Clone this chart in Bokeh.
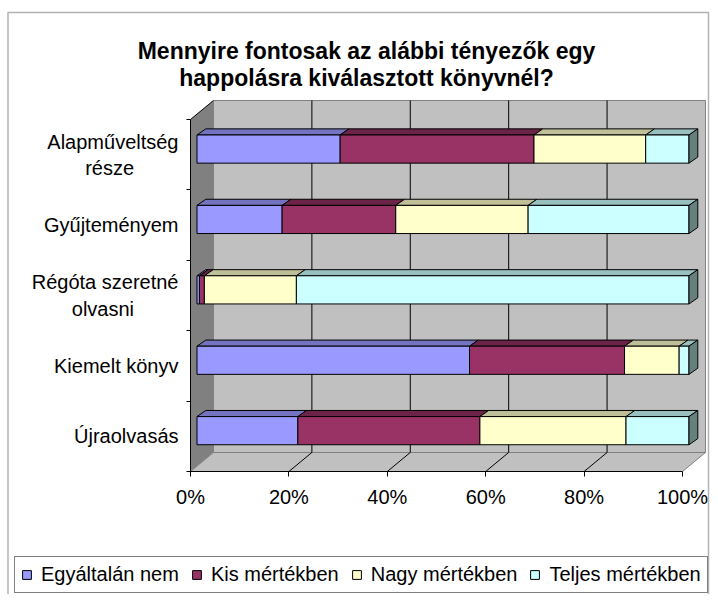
from bokeh.plotting import figure
from bokeh.models import Range1d, FixedTicker, Legend, LegendItem, BoxAnnotation
from bokeh.core.properties import value
from bokeh.embed import file_html
from bokeh.resources import INLINE

# ---------------- data ----------------
CATEGORIES = ["Alapműveltség\nrésze", "Gyűjteményem", "Régóta szeretné\nolvasni",
              "Kiemelt könyv", "Újraolvasás"]
SERIES = ["Egyáltalán nem", "Kis mértékben", "Nagy mértékben", "Teljes mértékben"]
EGYALTALAN_NEM = [29.1, 17.3, 0.5, 55.4, 20.5]
KIS_MERTEKBEN = [39.4, 23.1, 1.0, 31.5, 37.0]
NAGY_MERTEKBEN = [22.7, 26.9, 18.7, 11.1, 29.7]
TELJES_MERTEKBEN = [8.8, 32.7, 79.8, 2.0, 12.8]
X_TICKS = [0, 20, 40, 60, 80, 100]
X_TICK_LABELS = ["0%", "20%", "40%", "60%", "80%", "100%"]
TITLE_LINES = ["Mennyire fontosak az alábbi tényezők egy",
               "happolásra kiválasztott könyvnél?"]

VALUES = [EGYALTALAN_NEM, KIS_MERTEKBEN, NAGY_MERTEKBEN, TELJES_MERTEKBEN]
COLORS = ["#9999FF", "#993366", "#FFFFCC", "#CCFFFF"]
TOP_COLORS = ["#7373BF", "#6B2447", "#BFBF99", "#99BFBF"]
SIDE_COLORS = ["#4D4D80", "#4D1A33", "#808066", "#668080"]
FONT = "Liberation Sans"

# ---------------- layout (pixels) ----------------
W, HGT = 710, 594
X0, Y0 = 190.0, 471.0        # pixel position of the value-0 / category-0 corner
PXX, PXY = 4.92, 70.4        # pixels per percent / per category band


def px_x(px):
    return (px - X0) / PXX


def px_y(py):
    return (Y0 - py) / PXY


N = len(CATEGORIES)
WX, WY = 4.67, 0.27      # wall depth (data units)
FX, FY = 1.32, 0.08      # bar front plane offset
BX, BY = 3.11, 0.167     # bar back plane offset
H = 0.2                  # half bar height

p = figure(width=W, height=HGT,
           x_range=Range1d(px_x(0), px_x(W)), y_range=Range1d(px_y(HGT), px_y(0)),
           output_backend="svg", toolbar_location=None,
           min_border=0, min_border_left=0, min_border_right=0,
           min_border_top=0, min_border_bottom=0)
p.outline_line_color = None
p.xgrid.visible = False
p.ygrid.visible = False

# walls
p.patch([WX, 100 + WX, 100 + WX, WX], [WY, WY, N + WY, N + WY],
        fill_color="#C0C0C0", line_color="#808080", line_width=1)
p.patch([0, WX, WX, 0], [0, WY, N + WY, N], fill_color="#808080", line_color=None)
p.patch([0, 100, 100 + WX, WX], [0, 0, WY, WY],
        fill_color="#C0C0C0", line_color="#808080", line_width=1)
inner = X_TICKS[1:-1]
p.segment(x0=[t + WX for t in inner], y0=[WY] * len(inner),
          x1=[t + WX for t in inner], y1=[N + WY] * len(inner),
          line_color="black", line_width=1)
p.segment(x0=inner, y0=[0] * len(inner), x1=[t + WX for t in inner], y1=[WY] * len(inner),
          line_color="black", line_width=1)
p.segment(x0=[0], y0=[N], x1=[WX], y1=[N + WY], line_color="black", line_width=1)

# bars
yc = [N - 1 - i + 0.5 for i in range(N)]
lefts = []
acc = [0.0] * N
for vals in VALUES:
    lefts.append(list(acc))
    acc = [a + v for a, v in zip(acc, vals)]

for k, vals in enumerate(VALUES):
    xs, ys = [], []
    for i in range(N):
        l, r = lefts[k][i], lefts[k][i] + vals[i]
        xs.append([l + FX, r + FX, r + BX, l + BX])
        ys.append([yc[i] + FY + H, yc[i] + FY + H, yc[i] + BY + H, yc[i] + BY + H])
    p.patches(xs, ys, fill_color=TOP_COLORS[k], line_color="black", line_width=1)

front = []
for k, vals in enumerate(VALUES):
    r_ = p.quad(left=[lefts[k][i] + FX for i in range(N)],
                right=[lefts[k][i] + vals[i] + FX for i in range(N)],
                bottom=[yc[i] + FY - H for i in range(N)],
                top=[yc[i] + FY + H for i in range(N)],
                fill_color=COLORS[k], line_color="black", line_width=1)
    front.append(r_)

k = len(VALUES) - 1
sxs, sys_ = [], []
for i in range(N):
    r = lefts[k][i] + VALUES[k][i]
    sxs.append([r + FX, r + BX, r + BX, r + FX])
    sys_.append([yc[i] + FY - H, yc[i] + BY - H, yc[i] + BY + H, yc[i] + FY + H])
p.patches(sxs, sys_, fill_color=SIDE_COLORS[k], line_color="black", line_width=1)

# axes (drawn at fixed positions inside the full-canvas frame)
xa = p.xaxis[0]
xa.fixed_location = 0
xa.ticker = FixedTicker(ticks=X_TICKS)
xa.major_label_overrides = {t: lab for t, lab in zip(X_TICKS, X_TICK_LABELS)}
xa.bounds = (0, 100)
xa.axis_line_color = "black"
xa.major_tick_line_color = "black"
xa.major_tick_out = 5
xa.major_tick_in = 0
xa.minor_tick_line_color = None
xa.major_label_text_font = FONT
xa.major_label_text_font_size = "20px"
xa.major_label_text_color = "black"
xa.major_label_standoff = 9


def display_label(cat):
    lines = cat.split("\n")
    if len(lines) == 2:
        return lines[0] + "\n" + lines[1] + "\u00a0" * 8
    return cat


ya = p.yaxis[0]
ya.fixed_location = 0
ya.ticker = FixedTicker(ticks=yc, minor_ticks=list(range(N + 1)))
ya.major_label_overrides = {y: display_label(c) for y, c in zip(yc, CATEGORIES)}
ya.bounds = (0, N)
ya.axis_line_color = "black"
ya.major_tick_line_color = None
ya.major_tick_out = 0
ya.major_tick_in = 0
ya.minor_tick_line_color = "black"
ya.minor_tick_out = 4
ya.minor_tick_in = 0
ya.major_label_text_font = FONT
ya.major_label_text_font_size = "20px"
ya.major_label_text_color = "black"
ya.major_label_standoff = 8

# title
p.text(x=[px_x(366), px_x(366)], y=[px_y(50), px_y(77.7)], text=TITLE_LINES,
       text_align="center", text_baseline="alphabetic", text_font=value(FONT),
       text_font_style="bold", text_font_size="23px", text_color="black")

# outer chart border
p.add_layout(BoxAnnotation(left=px_x(7.5), right=px_x(708), top=px_y(12), bottom=px_y(700),
                           fill_alpha=0, line_color="black", line_width=1.5))

# legend
legend = Legend(items=[LegendItem(label=s, renderers=[front[k]]) for k, s in enumerate(SERIES)],
                orientation="horizontal", location=(14, 1),
                border_line_color="black", border_line_width=1,
                background_fill_color="white", background_fill_alpha=1,
                padding=6, spacing=12, label_standoff=9, margin=0,
                glyph_width=11, glyph_height=11,
                label_text_font=FONT, label_text_font_size="20px", label_text_color="black")
p.add_layout(legend, "center")

open("out.html", "w").write(file_html(p, INLINE))
